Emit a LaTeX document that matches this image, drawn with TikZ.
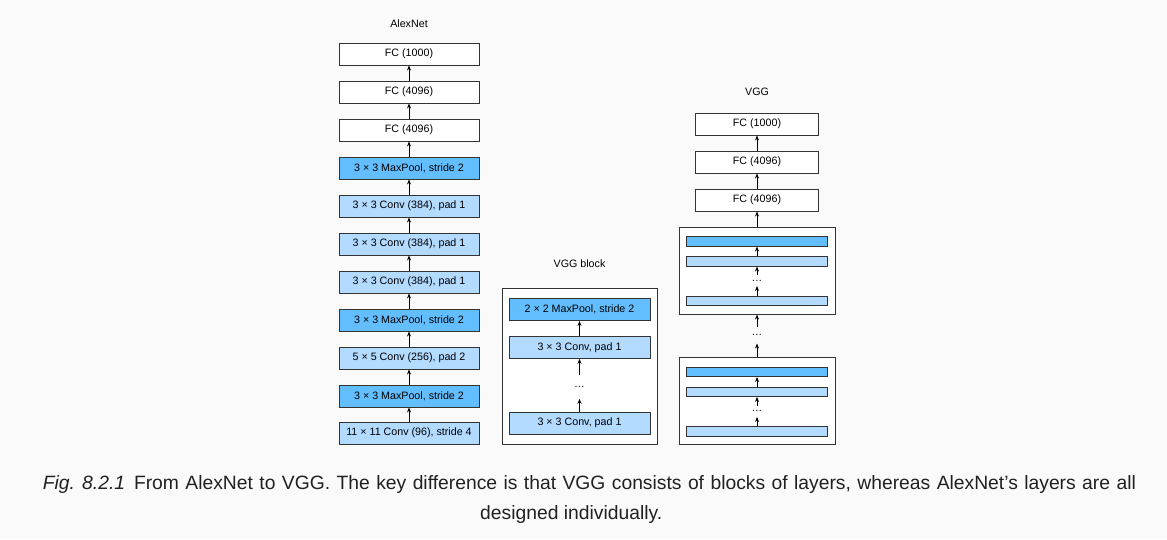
\documentclass[tikz,border=0pt]{standalone}
\usepackage{fontspec}
\setmainfont{Liberation Sans}
\usetikzlibrary{arrows.meta}
\definecolor{poolblue}{HTML}{63BEFF}
\definecolor{convblue}{HTML}{B3DAFF}
\definecolor{bggray}{HTML}{FAFAFA}
\definecolor{edgegray}{HTML}{333333}
\definecolor{captiongray}{HTML}{212121}

\begin{document}
\begin{tikzpicture}[x=1pt,y=-1pt,
  boxbase/.style={draw=edgegray,line width=0.9pt,minimum height=22pt,inner sep=0pt,font=\fontsize{10.7}{12}\selectfont},
  fcbox/.style={boxbase,fill=white},
  poolbox/.style={boxbase,fill=poolblue},
  convbox/.style={boxbase,fill=convblue},
  thinbar/.style={draw=edgegray,line width=0.9pt,minimum width=141pt,minimum height=9.5pt,inner sep=0pt},
  blockframe/.style={draw=edgegray,line width=0.9pt,fill=white,inner sep=0pt},
  dotsnode/.style={inner sep=0pt,font=\fontsize{10.7}{12}\selectfont},
  titletext/.style={font=\fontsize{10.7}{12}\selectfont},
  captext/.style={inner sep=0pt,text=captiongray,font=\fontsize{19.3}{23}\selectfont},
  uparrow/.style={-{Stealth[length=5pt,width=4pt]},line width=0.9pt}]

\fill[bggray] (0,0) rectangle (1167,539);
\useasboundingbox (0,0) rectangle (1167,539);

% AlexNet
\node[titletext] (alextitle) at (409,24) {AlexNet};
\node[convbox,minimum width=140pt] (a1) at (409,433) {11 × 11 Conv (96), stride 4};
\node[poolbox,minimum width=140pt] (a2) at (409,396) {3 × 3 MaxPool, stride 2};
\node[convbox,minimum width=140pt] (a3) at (409,358) {5 × 5 Conv (256), pad 2};
\node[poolbox,minimum width=140pt] (a4) at (409,320) {3 × 3 MaxPool, stride 2};
\node[convbox,minimum width=140pt] (a5) at (409,282) {3 × 3 Conv (384), pad 1};
\node[convbox,minimum width=140pt] (a6) at (409,244) {3 × 3 Conv (384), pad 1};
\node[convbox,minimum width=140pt] (a7) at (409,206) {3 × 3 Conv (384), pad 1};
\node[poolbox,minimum width=140pt] (a8) at (409,168) {3 × 3 MaxPool, stride 2};
\node[fcbox,minimum width=140pt] (a9) at (409,130) {FC (4096)};
\node[fcbox,minimum width=140pt] (a10) at (409,92) {FC (4096)};
\node[fcbox,minimum width=140pt] (a11) at (409,54) {FC (1000)};
\draw[uparrow] (a1) -- (a2);
\draw[uparrow] (a2) -- (a3);
\draw[uparrow] (a3) -- (a4);
\draw[uparrow] (a4) -- (a5);
\draw[uparrow] (a5) -- (a6);
\draw[uparrow] (a6) -- (a7);
\draw[uparrow] (a7) -- (a8);
\draw[uparrow] (a8) -- (a9);
\draw[uparrow] (a9) -- (a10);
\draw[uparrow] (a10) -- (a11);

% VGG block
\node[titletext] (blktitle) at (579.5,264) {VGG block};
\node[blockframe,minimum width=155pt,minimum height=156pt] (blk) at (579.5,366) {};
\node[convbox,minimum width=141pt] (b1) at (579.5,423) {3 × 3 Conv, pad 1};
\node[dotsnode,minimum height=23.5pt] (bd) at (579.5,386.8) {\dots};
\node[convbox,minimum width=141pt] (b2) at (579.5,347.4) {3 × 3 Conv, pad 1};
\node[poolbox,minimum width=141pt] (b3) at (579.5,309.5) {2 × 2 MaxPool, stride 2};
\draw[uparrow] (b1) -- (bd);
\draw[uparrow] (bd) -- (b2);
\draw[uparrow] (b2) -- (b3);

% VGG
\node[titletext] (vggtitle) at (757,92) {VGG};
\node[blockframe,minimum width=156pt,minimum height=86.3pt] (lfr) at (757,400.9) {};
\node[thinbar,fill=convblue] (l1) at (757,431.3) {};
\node[dotsnode,minimum height=10.6pt] (ld) at (757,411.4) {\dots};
\node[thinbar,fill=convblue] (l2) at (757,391.7) {};
\node[thinbar,fill=poolblue] (l3) at (757,371.7) {};
\node[dotsnode,minimum height=16.6pt] (md) at (757,335) {\dots};
\node[blockframe,minimum width=156pt,minimum height=86.7pt] (ufr) at (757,270.7) {};
\node[thinbar,fill=convblue] (u1) at (757,300.8) {};
\node[dotsnode,minimum height=10.5pt] (ud) at (757,280.5) {\dots};
\node[thinbar,fill=convblue] (u2) at (757,261.3) {};
\node[thinbar,fill=poolblue] (u3) at (757,241.3) {};
\node[fcbox,minimum width=123pt] (c1) at (757,200) {FC (4096)};
\node[fcbox,minimum width=123pt] (c2) at (757,162) {FC (4096)};
\node[fcbox,minimum width=123pt] (c3) at (757,124) {FC (1000)};
\draw[uparrow] (l1) -- (ld);
\draw[uparrow] (ld) -- (l2);
\draw[uparrow] (l2) -- (l3);
\draw[uparrow] (lfr) -- (md);
\draw[uparrow] (md) -- (ufr);
\draw[uparrow] (u1) -- (ud);
\draw[uparrow] (ud) -- (u2);
\draw[uparrow] (u2) -- (u3);
\draw[uparrow] (ufr) -- (c1);
\draw[uparrow] (c1) -- (c2);
\draw[uparrow] (c2) -- (c3);

% caption
\node[captext,anchor=base west] (cap1) at (42.7,489) {\textit{Fig. 8.2.1}\hspace{3.5pt} {\spaceskip=6.42pt\relax From AlexNet to VGG. The key difference is that VGG consists of blocks of layers, whereas AlexNet’s layers are all}};
\node[captext,anchor=base west] (cap2) at (480,519) {designed individually.};

\end{tikzpicture}
\end{document}
